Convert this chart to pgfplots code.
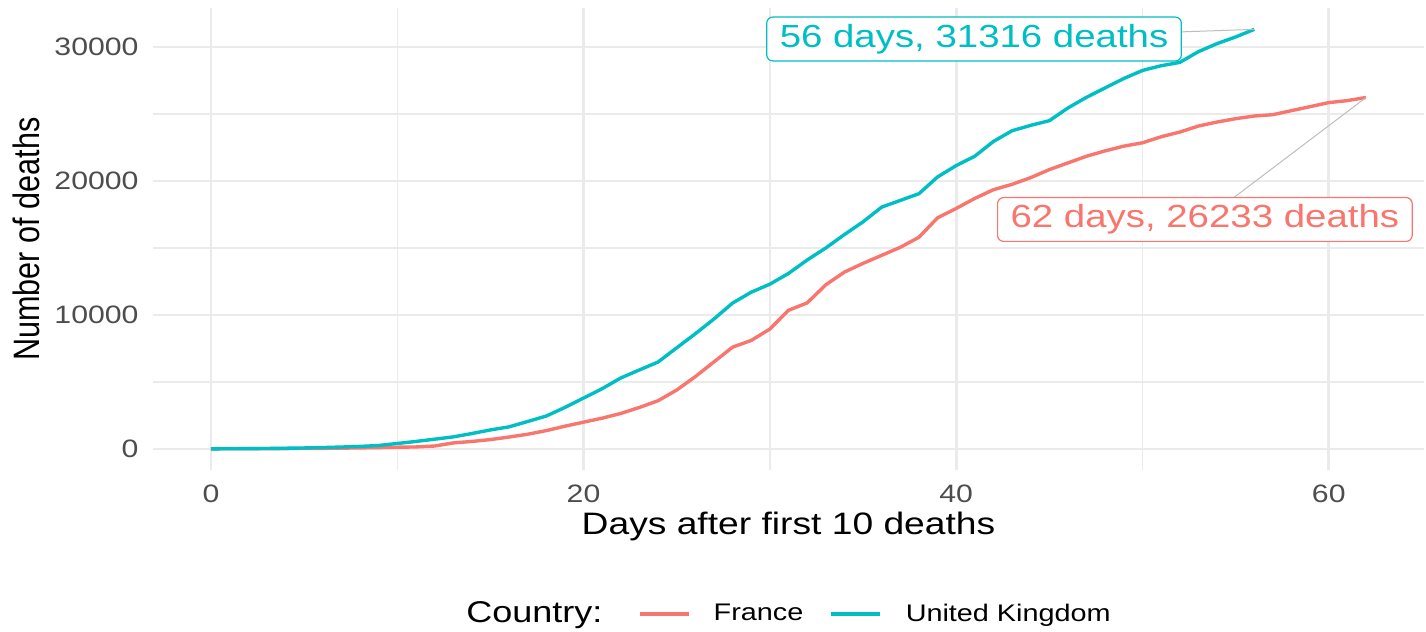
\documentclass[border=0pt]{standalone}
\usepackage{fontspec}
\setmainfont{Liberation Sans}[FakeStretch=1.2]
\newfontfamily\plainfont{Liberation Sans}
\usepackage{pgfplots}
\pgfplotsset{compat=1.18}
\usepackage{pgfplotstable}
\definecolor{fr}{HTML}{F8766D}
\definecolor{uk}{HTML}{00BFC4}
\definecolor{gridc}{HTML}{EBEBEB}
\definecolor{tickc}{HTML}{4D4D4D}
\definecolor{segc}{HTML}{BDBDBD}
\pgfplotstableread{
day deaths
0 10
1 15
2 25
3 35
4 55
5 75
6 105
7 145
8 190
9 260
10 410
11 560
12 730
13 900
14 1150
15 1420
16 1650
17 2050
18 2460
19 3100
20 3800
21 4500
22 5300
23 5900
24 6490
25 7550
26 8600
27 9700
28 10890
29 11700
30 12300
31 13100
32 14100
33 15000
34 16000
35 16950
36 18050
37 18550
38 19050
39 20300
40 21150
41 21850
42 22950
43 23750
44 24150
45 24500
46 25450
47 26250
48 26950
49 27650
50 28250
51 28600
52 28850
53 29650
54 30250
55 30750
56 31316
}\uk
\pgfplotstableread{
day deaths
0 10
1 15
2 20
3 25
4 30
5 35
6 45
7 60
8 80
9 100
10 130
11 150
12 220
13 450
14 560
15 700
16 890
17 1100
18 1370
19 1700
20 2000
21 2300
22 2650
23 3100
24 3600
25 4400
26 5400
27 6500
28 7600
29 8100
30 8950
31 10350
32 10900
33 12250
34 13200
35 13850
36 14450
37 15050
38 15800
39 17250
40 17950
41 18700
42 19350
43 19750
44 20250
45 20850
46 21350
47 21850
48 22250
49 22600
50 22850
51 23300
52 23650
53 24100
54 24400
55 24650
56 24850
57 24950
58 25250
59 25550
60 25850
61 26000
62 26233
}\fr
\begin{document}
\begin{tikzpicture}
\path[use as bounding box] (-76.6pt,-81.1pt) rectangle (636.4pt,234.9pt);
\begin{axis}[
  scale only axis, width=635.3pt, height=230.7pt,
  xmin=-3.1, xmax=65.1, ymin=-1555, ymax=32881,
  xtick={0,20,40,60}, ytick={0,10000,20000,30000},
  minor xtick={10,30,50}, minor ytick={5000,15000,25000},
  grid=both,
  major grid style={draw=gridc, line width=1.4pt},
  minor grid style={draw=gridc, line width=0.7pt},
  axis line style={draw=none}, tick style={draw=none},
  major tick length=0pt, minor tick length=0pt,
  scaled y ticks=false,
  /pgf/number format/1000 sep={},
  /pgf/number format/assume math mode=true,
  tick label style={font=\fontsize{12.6}{14}\selectfont, text=tickc},
  xticklabel style={yshift=-3.8pt},
  yticklabel style={xshift=-3.8pt},
  xlabel={Days after first 10 deaths},
  xlabel style={font=\fontsize{15.5}{18}\selectfont, at={(axis description cs:0.5,-0.1413)}, anchor=base},
  ylabel={\scalebox{1}[1.2]{\plainfont\fontsize{15.3}{18}\selectfont Number of deaths}},
  ylabel style={at={(axis description cs:-0.0891,0.5)}, anchor=base},
  legend columns=3,
  legend style={at={(axis description cs:0.5,-0.3125)}, anchor=center, draw=none, fill=none,
    column sep=0pt, row sep=0pt, nodes={inner sep=0pt}, font=\fontsize{12}{14}\selectfont},
]
\addlegendimage{empty legend}
\addlegendentry{\fontsize{15}{18}\selectfont Country:}
\addplot[color=fr, line width=1.7pt, line join=round,
  legend image code/.code={\path (-18pt,0pt) (36pt,0pt); \draw[color=fr, line width=1.7pt] (0pt,0pt) -- (24.5pt,0pt);}]
  table[x=day, y=deaths] {\fr};
\addlegendentry{France}
\addplot[color=uk, line width=1.7pt, line join=round,
  legend image code/.code={\path (-13pt,0pt) (36.5pt,0pt); \draw[color=uk, line width=1.7pt] (0pt,0pt) -- (24.5pt,0pt);}]
  table[x=day, y=deaths] {\uk};
\addlegendentry{United Kingdom}
\addplot[forget plot, color=segc, line width=0.5pt] coordinates {(40.96,30597) (56,31316)};
\addplot[forget plot, color=segc, line width=0.5pt] coordinates {(53.35,17127) (62,26233)};
\node[draw=uk, fill=white, rounded corners=3pt, line width=0.6pt, text=uk, inner xsep=6.5pt, inner ysep=3.5pt,
  font=\fontsize{16}{19}\selectfont] at (axis cs:40.96,30597) {56 days, 31316 deaths};
\node[draw=fr, fill=white, rounded corners=3pt, line width=0.6pt, text=fr, inner xsep=6.5pt, inner ysep=3.5pt,
  font=\fontsize{16}{19}\selectfont] at (axis cs:53.35,17127) {62 days, 26233 deaths};
\end{axis}
\end{tikzpicture}
\end{document}
